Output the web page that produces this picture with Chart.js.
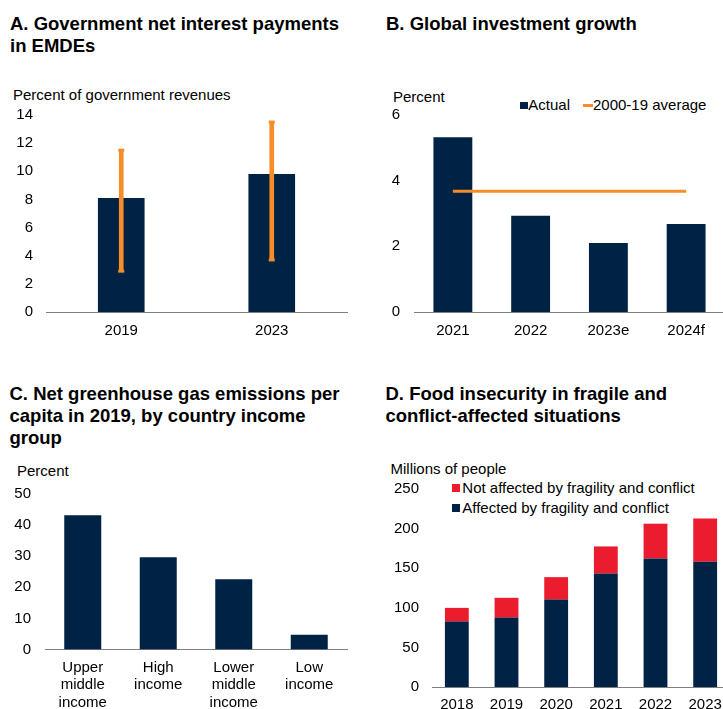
<!DOCTYPE html>
<html>
<head>
<meta charset="utf-8">
<script src="https://cdn.jsdelivr.net/npm/chart.js@4.4.0/dist/chart.umd.min.js"></script>
<style>
body { margin: 0; width: 723px; height: 709px; overflow: hidden; background: #fff; position: relative;
       font-family: "Liberation Sans", Arial, Helvetica, sans-serif; color: #000; }
.title { position: absolute; font-weight: bold; font-size: 18.5px; line-height: 22px; }
.txt { position: absolute; font-size: 15px; line-height: 18px; white-space: nowrap; }
.box { position: absolute; overflow: hidden; }
.sw { position: absolute; }
canvas { display: block; }
</style>
</head>
<body>

<div class="title" style="left:10px; top:13px; width:345px;">A. Government net interest payments in EMDEs</div>
<div class="title" style="left:386px; top:13px;">B. Global investment growth</div>
<div class="title" style="left:9.5px; top:383px; width:345px;">C. Net greenhouse gas emissions per capita in 2019, by country income group</div>
<div class="title" style="left:385.5px; top:383px; width:330px;">D. Food insecurity in fragile and conflict-affected situations</div>

<div class="txt" style="left:13px; top:86px;">Percent of government revenues</div>
<div class="txt" style="left:393px; top:88px;">Percent</div>
<div class="txt" style="left:17px; top:462px;">Percent</div>
<div class="txt" style="left:390.5px; top:460px;">Millions of people</div>

<!-- legend B -->
<div class="sw" style="left:520px; top:101.5px; width:7.5px; height:7.5px; background:#002345;"></div>
<div class="txt" style="left:528.3px; top:96.3px;">Actual</div>
<div class="sw" style="left:582.7px; top:103.8px; width:10.6px; height:3px; background:#F78D28;"></div>
<div class="txt" style="left:593px; top:96.3px;">2000-19 average</div>

<!-- legend D -->
<div class="sw" style="left:451.7px; top:484.3px; width:8px; height:8px; background:#EB1C2D;"></div>
<div class="txt" style="left:462.3px; top:479.3px;">Not affected by fragility and conflict</div>
<div class="sw" style="left:451.7px; top:503.8px; width:8px; height:8px; background:#002345;"></div>
<div class="txt" style="left:462.3px; top:498.8px;">Affected by fragility and conflict</div>

<div class="box" style="left:0; top:100px; width:360px; height:250px;"><canvas id="chartA" width="360" height="250"></canvas></div>
<div class="box" style="left:360px; top:100px; width:363px; height:250px;"><canvas id="chartB" width="380" height="250"></canvas></div>
<div class="box" style="left:0; top:480px; width:360px; height:229px;"><canvas id="chartC" width="360" height="241"></canvas></div>
<div class="box" style="left:360px; top:480px; width:363px; height:229px;"><canvas id="chartD" width="380" height="243"></canvas></div>

<script>
// A. net interest payments
const yearsA = ['2019', '2023'];
const interestMedian = [8.1, 9.8];
const interestLow = [2.9, 3.7];
const interestHigh = [11.5, 13.5];

// B. investment growth
const yearsB = ['2021', '2022', '2023e', '2024f'];
const investActual = [5.32, 2.93, 2.1, 2.68];
const investAverage = [3.68, 3.68, 3.68, 3.68];

// C. emissions per capita
const incomeGroups = [['Upper', 'middle', 'income'], ['High', 'income'], ['Lower', 'middle', 'income'], ['Low', 'income']];
const emissionsShare = [43.2, 29.7, 22.6, 4.75];

// D. food insecurity
const yearsD = ['2018', '2019', '2020', '2021', '2022', '2023'];
const affectedFCS = [82.6, 87.7, 110.4, 143.3, 162.3, 158.1];
const notAffectedFCS = [17.3, 24.9, 28.3, 34.2, 43.9, 54.8];

const NAVY = '#002345';
const ORANGE = '#F78D28';
const RED = '#EB1C2D';

Chart.defaults.font.family = '"Liberation Sans", Arial, Helvetica, sans-serif';
Chart.defaults.font.size = 15;
Chart.defaults.color = '#000';
Chart.defaults.animation = false;

// shared options, axis width and paddings tuned per panel
// (y gap is done with an invisible tick length, ticks.padding would push the plot top down)
function makeOptions(o) {
    return {
        responsive: false,
        events: [],
        layout: { padding: o.padding },
        plugins: { legend: { display: false }, tooltip: { enabled: false } },
        scales: {
            x: {
                stacked: !!o.stacked,
                grid: { display: false, drawTicks: false },
                border: { display: true, color: '#7f7f7f', width: 1 },
                ticks: { padding: o.xPad, font: { lineHeight: o.lineHeight || 1.2 }, maxRotation: 0, autoSkip: false }
            },
            y: {
                stacked: !!o.stacked,
                min: 0,
                max: o.max,
                grid: { display: false, drawTicks: true, tickLength: o.yPad },
                border: { display: false },
                ticks: { stepSize: o.step, padding: 0 },
                afterFit: function (scale) { scale.width = o.axisWidth; }
            }
        }
    };
}

// Panel A
new Chart(document.getElementById('chartA'), {
    type: 'bar',
    data: {
        labels: yearsA,
        datasets: [
            {
                type: 'line', data: interestHigh, showLine: false,
                pointStyle: 'line', pointRadius: 3, pointBorderWidth: 3, pointBorderColor: ORANGE, order: 0
            },
            {
                type: 'line', data: interestLow, showLine: false,
                pointStyle: 'line', pointRadius: 3, pointBorderWidth: 3, pointBorderColor: ORANGE, order: 0
            },
            {
                data: interestLow.map((lo, i) => [lo, interestHigh[i]]),
                backgroundColor: ORANGE, barThickness: 4, grouped: false, order: 1
            },
            {
                data: interestMedian, backgroundColor: NAVY,
                categoryPercentage: 1, barPercentage: 0.31, grouped: false, order: 2
            }
        ]
    },
    options: makeOptions({ padding: { top: 15, right: 13, bottom: 0, left: 0 }, axisWidth: 46, yPad: 13, xPad: 10, max: 14, step: 2 })
});

// Panel B
new Chart(document.getElementById('chartB'), {
    type: 'bar',
    data: {
        labels: yearsB,
        datasets: [
            {
                type: 'line', data: investAverage, borderColor: ORANGE, borderWidth: 3,
                pointRadius: 0, order: 0
            },
            {
                data: investActual, backgroundColor: NAVY,
                categoryPercentage: 1, barPercentage: 0.5, order: 1
            }
        ]
    },
    options: makeOptions({ padding: { top: 15, right: 15, bottom: 0, left: 0 }, axisWidth: 54, yPad: 14, xPad: 10, max: 6, step: 2 })
});

// Panel C
new Chart(document.getElementById('chartC'), {
    type: 'bar',
    data: {
        labels: incomeGroups,
        datasets: [
            {
                data: emissionsShare, backgroundColor: NAVY,
                categoryPercentage: 1, barPercentage: 0.49
            }
        ]
    },
    options: makeOptions({ padding: { top: 14, right: 13, bottom: 0, left: 0 }, axisWidth: 45, yPad: 14, xPad: 9.5, lineHeight: 1.167, max: 50, step: 10 })
});

// Panel D
new Chart(document.getElementById('chartD'), {
    type: 'bar',
    data: {
        labels: yearsD,
        datasets: [
            {
                data: affectedFCS, backgroundColor: NAVY,
                categoryPercentage: 1, barPercentage: 0.48
            },
            {
                data: notAffectedFCS, backgroundColor: RED,
                categoryPercentage: 1, barPercentage: 0.48
            }
        ]
    },
    options: makeOptions({ padding: { top: 9, right: 10, bottom: 0, left: 0 }, axisWidth: 72, yPad: 13, xPad: 9, max: 250, step: 50, stacked: true })
});
</script>
</body>
</html>
